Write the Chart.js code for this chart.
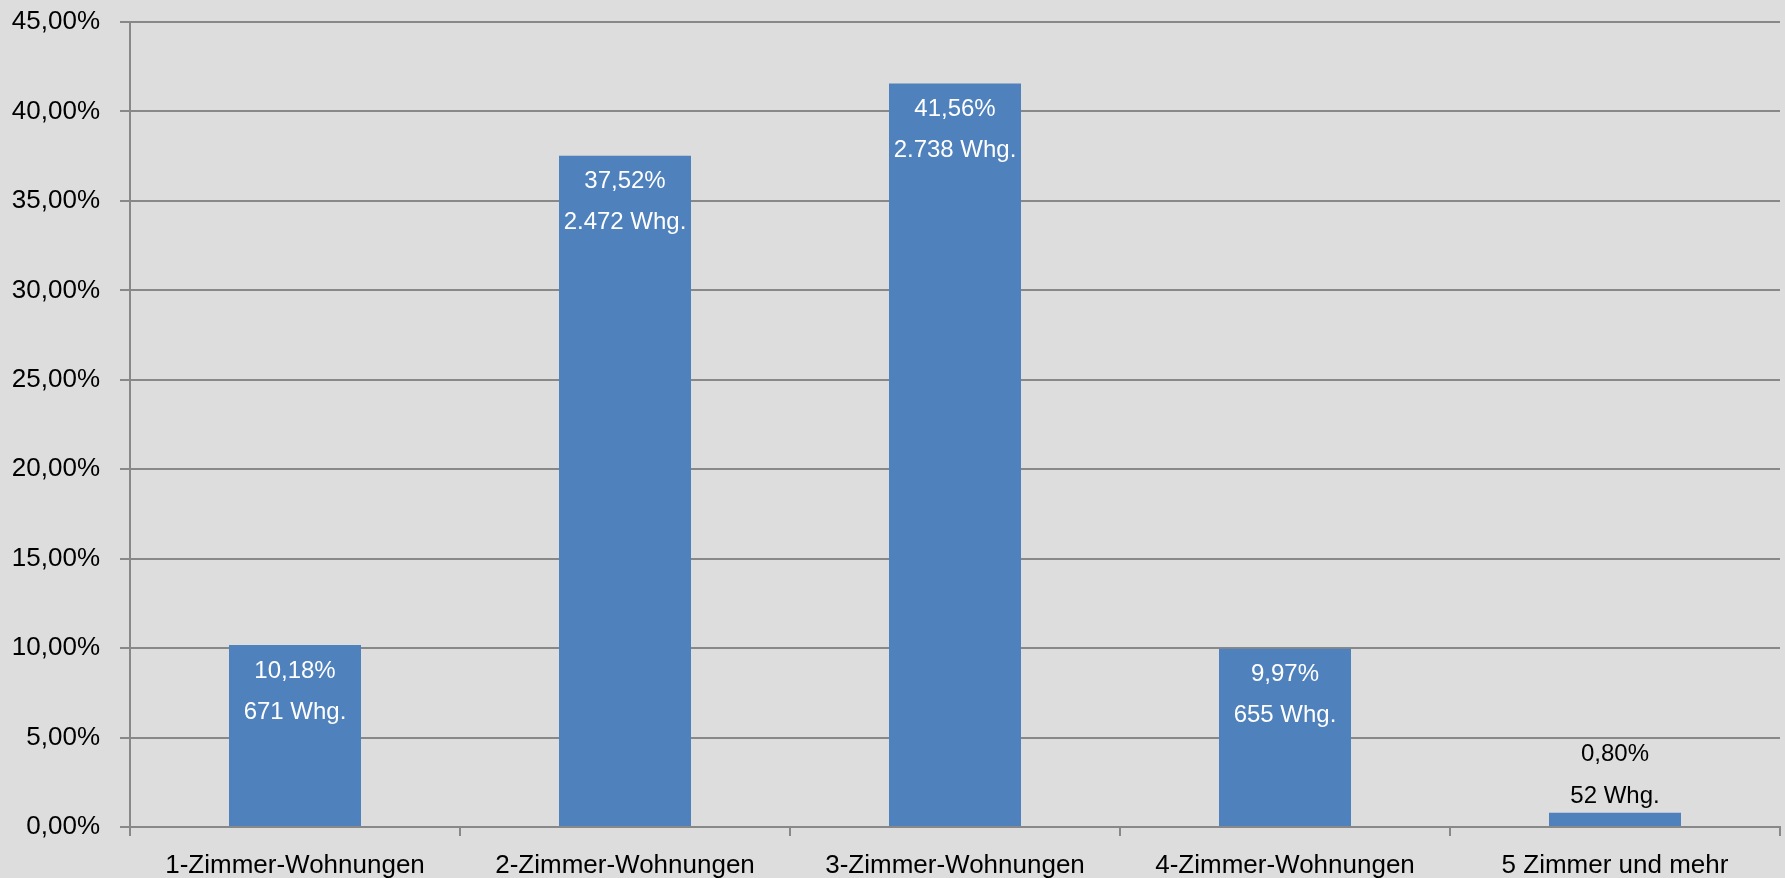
<!DOCTYPE html>
<html>
<head>
<meta charset="utf-8">
<script src="https://cdn.jsdelivr.net/npm/chart.js@4/dist/chart.umd.min.js"></script>
<style>
  html, body { margin: 0; padding: 0; background: #dddddd; }
  canvas { display: block; }
</style>
</head>
<body>
<canvas id="chart" width="1785" height="878"></canvas>
<script>
"use strict";

const categories = ["1-Zimmer-Wohnungen", "2-Zimmer-Wohnungen", "3-Zimmer-Wohnungen", "4-Zimmer-Wohnungen", "5 Zimmer und mehr"];
const shares = [10.18, 37.52, 41.56, 9.97, 0.80];
const flats = [671, 2472, 2738, 655, 52];
const yTicks = [0, 5, 10, 15, 20, 25, 30, 35, 40, 45];

const gridGray = "#888888";
const font = "'Liberation Sans', Arial, sans-serif";

const pct = v => v.toFixed(2).replace(".", ",") + "%";
const thousands = n => String(n).replace(/\B(?=(\d{3})+(?!\d))/g, ".");

// two-line labels: inside the bar in white, above it in black when the bar is too short
const barLabels = {
  id: "barLabels",
  afterDatasetsDraw(chart) {
    const ctx = chart.ctx;
    const meta = chart.getDatasetMeta(0);
    ctx.save();
    ctx.font = "24px " + font;
    ctx.textAlign = "center";
    ctx.textBaseline = "middle";
    meta.data.forEach((bar, i) => {
      const h = bar.base - bar.y;
      let y1, y2;
      if (h > 100) {
        ctx.fillStyle = "#ffffff";
        y1 = bar.y + 26;
        y2 = bar.y + 67;
      } else {
        ctx.fillStyle = "#000000";
        y1 = bar.y - 58;
        y2 = bar.y - 16;
      }
      ctx.fillText(pct(shares[i]), bar.x, y1);
      ctx.fillText(thousands(flats[i]) + " Whg.", bar.x, y2);
    });
    ctx.restore();
  }
};

const ctx = document.getElementById("chart").getContext("2d");
const myChart = new Chart(ctx, {
  type: "bar",
  data: {
    labels: categories,
    datasets: [{
      data: shares,
      backgroundColor: "#4f81bd",
      borderWidth: 0,
      categoryPercentage: 1,
      barPercentage: 0.4
    }]
  },
  plugins: [barLabels],
  options: {
    responsive: false,
    animation: false,
    layout: { padding: { top: 22, right: 5, bottom: 0, left: 0 } },
    plugins: {
      legend: { display: false },
      tooltip: { enabled: false }
    },
    scales: {
      x: {
        afterFit(scale) {
          scale.height = 51;
          scale.paddingLeft = 0;
          scale.paddingRight = 0;
        },
        grid: {
          offset: true,
          drawOnChartArea: false,
          color: gridGray,
          lineWidth: 2,
          tickLength: 9
        },
        border: { color: gridGray, width: 2 },
        ticks: {
          color: "#000000",
          padding: 14,
          maxRotation: 0,
          autoSkip: false,
          font: { family: font, size: 26 }
        }
      },
      y: {
        min: 0,
        max: 45,
        afterFit(scale) {
          scale.width = 130;
          scale.paddingTop = 0;
          scale.paddingBottom = 0;
        },
        afterBuildTicks(scale) { scale.ticks = yTicks.map(v => ({ value: v })); },
        grid: {
          color: gridGray,
          lineWidth: 2,
          tickLength: 10
        },
        border: { color: gridGray, width: 2 },
        ticks: {
          color: "#000000",
          padding: 20,
          font: { family: font, size: 26 },
          callback: v => pct(v)
        }
      }
    }
  }
});
</script>
</body>
</html>
